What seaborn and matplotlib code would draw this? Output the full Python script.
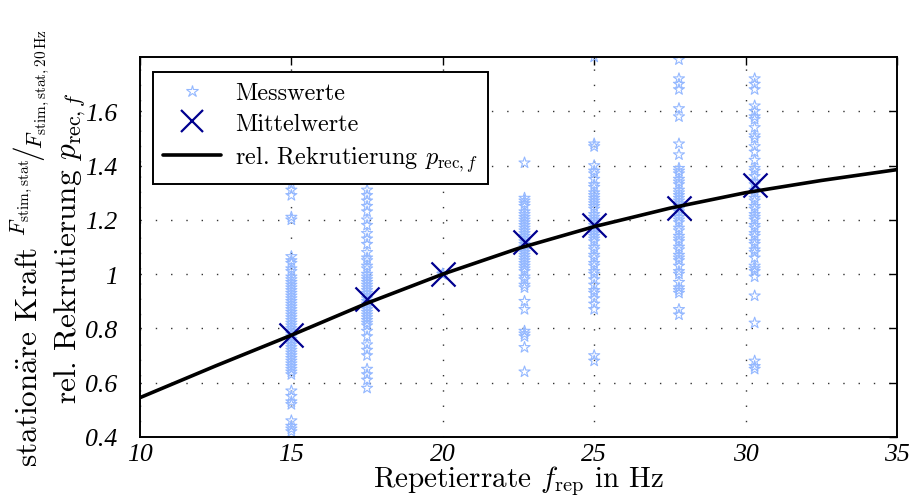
"""
Stationary force vs. repetition rate with relative recruitment curve.
"""

import numpy as np
import pandas as pd
import matplotlib
matplotlib.use("Agg")
import matplotlib.pyplot as plt
import seaborn as sns
from matplotlib.lines import Line2D

# measured columns (repetition rate in Hz -> normalised stationary force)
f_15 = [1.33, 1.31, 1.29, 1.21, 1.20, 1.065, 1.05, 1.04, 1.02, 1.01, 0.99, 0.98,
        0.97, 0.96, 0.95, 0.94, 0.93, 0.92, 0.91, 0.90, 0.89, 0.88, 0.87, 0.86,
        0.85, 0.84, 0.83, 0.82, 0.81, 0.80, 0.79, 0.78, 0.77, 0.76, 0.75, 0.74,
        0.73, 0.72, 0.71, 0.70, 0.69, 0.68, 0.67, 0.66, 0.65, 0.64, 0.63, 0.57,
        0.55, 0.53, 0.52, 0.46, 0.44, 0.43, 0.42]
f_17 = [1.31, 1.29, 1.27, 1.25, 1.23, 1.20, 1.18, 1.15, 1.13, 1.11, 1.08, 1.06,
        1.05, 1.03, 1.02, 1.00, 0.99, 0.98, 0.97, 0.96, 0.95, 0.94, 0.93, 0.92,
        0.91, 0.90, 0.89, 0.88, 0.87, 0.86, 0.85, 0.84, 0.83, 0.82, 0.81, 0.79,
        0.77, 0.74, 0.72, 0.70, 0.65, 0.63, 0.61, 0.58]
f_20 = [1.0, 1.0, 1.0, 1.0]
f_22 = [1.41, 1.28, 1.27, 1.26, 1.25, 1.23, 1.22, 1.21, 1.20, 1.19, 1.18, 1.17,
        1.16, 1.15, 1.14, 1.13, 1.12, 1.11, 1.10, 1.09, 1.08, 1.07, 1.06, 1.05,
        1.04, 1.03, 1.02, 1.01, 0.99, 0.98, 0.96, 0.95, 0.90, 0.87, 0.79, 0.78,
        0.77, 0.73, 0.64]
f_25 = [1.80, 1.48, 1.47, 1.40, 1.38, 1.37, 1.35, 1.33, 1.32, 1.30, 1.29, 1.28,
        1.27, 1.26, 1.25, 1.24, 1.22, 1.21, 1.20, 1.19, 1.18, 1.17, 1.16, 1.15,
        1.14, 1.13, 1.12, 1.10, 1.09, 1.07, 1.06, 1.04, 1.03, 1.01, 1.00, 0.98,
        0.96, 0.94, 0.93, 0.91, 0.89, 0.87, 0.70, 0.68]
f_27 = [1.79, 1.72, 1.70, 1.68, 1.61, 1.58, 1.48, 1.44, 1.39, 1.38, 1.37, 1.35,
        1.34, 1.33, 1.31, 1.30, 1.29, 1.28, 1.27, 1.26, 1.25, 1.24, 1.23, 1.21,
        1.20, 1.19, 1.17, 1.16, 1.14, 1.13, 1.12, 1.10, 1.09, 1.07, 1.06, 1.05,
        1.03, 1.01, 1.00, 0.97, 0.95, 0.94, 0.93, 0.87, 0.85]
f_30 = [1.72, 1.70, 1.68, 1.62, 1.60, 1.58, 1.57, 1.54, 1.51, 1.50, 1.47, 1.45,
        1.42, 1.39, 1.38, 1.36, 1.34, 1.33, 1.31, 1.30, 1.28, 1.27, 1.25, 1.24,
        1.22, 1.21, 1.20, 1.18, 1.17, 1.15, 1.14, 1.12, 1.11, 1.09, 1.08, 1.06,
        1.03, 1.02, 1.01, 0.99, 0.92, 0.82, 0.68, 0.66, 0.65]

rep_rates = [15.0, 17.5, 20.0, 22.7, 25.0, 27.8, 30.3]
columns = [f_15, f_17, f_20, f_22, f_25, f_27, f_30]

# mean per repetition rate
mean_force = [0.774, 0.907, 1.0, 1.117, 1.181, 1.243, 1.330]

# relative recruitment curve
curve_f = [10.0, 12.5, 15.0, 17.5, 20.0, 22.5, 25.0, 27.5, 30.0, 32.5, 35.0]
curve_p = [0.545, 0.662, 0.775, 0.893, 1.0, 1.095, 1.175, 1.243, 1.300, 1.345, 1.385]

x_ticks = [10, 15, 20, 25, 30, 35]
y_ticks = [0.4, 0.6, 0.8, 1.0, 1.2, 1.4, 1.6]
y_tick_labels = ["0.4", "0.6", "0.8", "1", "1.2", "1.4", "1.6"]


def main():
    sns.set_style("white")
    plt.rcParams["font.family"] = ["cmr10", "DejaVu Serif"]
    plt.rcParams["mathtext.fontset"] = "cm"
    plt.rcParams["axes.unicode_minus"] = False
    plt.rcParams["text.color"] = "black"
    plt.rcParams["axes.labelcolor"] = "black"
    plt.rcParams["xtick.color"] = "black"
    plt.rcParams["ytick.color"] = "black"

    df = pd.DataFrame({
        "f": np.concatenate([[r] * len(c) for r, c in zip(rep_rates, columns)]),
        "F": np.concatenate(columns),
    })

    fig = plt.figure(figsize=(9.1, 5.02), dpi=100)
    ax = fig.add_axes([0.1538, 0.1275, 0.8319, 0.757])

    star_col = "#94b8ff"
    mean_col = "#00008f"

    sns.scatterplot(data=df, x="f", y="F", ax=ax, marker="*", s=70,
                    facecolors="none", edgecolors=star_col, linewidth=0.8,
                    zorder=2, legend=False)
    sns.scatterplot(x=rep_rates, y=mean_force, ax=ax, marker="x", s=300,
                    color=mean_col, linewidth=1.6, zorder=3, legend=False)
    sns.lineplot(x=curve_f, y=curve_p, ax=ax, color="black", linewidth=2.6,
                 zorder=4)

    ax.set_xlim(10, 35)
    ax.set_ylim(0.4, 1.8)
    ax.set_xticks(x_ticks)
    ax.set_yticks(y_ticks)
    ax.set_xticklabels([str(t) for t in x_ticks])
    ax.set_yticklabels(y_tick_labels)
    for lab in ax.get_xticklabels() + ax.get_yticklabels():
        lab.set_family("Liberation Serif")
        lab.set_style("italic")
        lab.set_fontsize(18.5)
        lab.set_color("black")

    ax.tick_params(direction="in", length=6, width=1, top=True, right=True,
                   color="black")
    ax.tick_params(axis="x", pad=4)
    ax.tick_params(axis="y", pad=16)
    ax.grid(True, color="#333333", linestyle=(0, (1, 10)), linewidth=1.0)
    for sp in ax.spines.values():
        sp.set_color("black")
        sp.set_linewidth(1.4)

    ax.set_xlabel(r"Repetierrate $f_{\mathrm{rep}}$ in Hz", fontsize=21, labelpad=-1)
    ax.set_ylabel(
        r"station$\mathrm{\ddot{a}}$re Kraft "
        r"${}^{F_{\mathrm{stim,stat}}}\!/\!{}_{F_{\mathrm{stim,stat,20\,Hz}}}$"
        "\n"
        r"rel. Rekrutierung $p_{\mathrm{rec},f}$",
        fontsize=22.5, linespacing=1.05, labelpad=-2,
    )

    handles = [
        Line2D([], [], linestyle="", marker="*", markersize=9,
               markerfacecolor="none", markeredgecolor=star_col,
               markeredgewidth=0.8),
        Line2D([], [], linestyle="", marker="x", markersize=16,
               color=mean_col, markeredgewidth=1.6),
        Line2D([], [], color="black", linewidth=2.6),
    ]
    labels = ["Messwerte", "Mittelwerte", r"rel. Rekrutierung $p_{\mathrm{rec},f}$"]
    leg = ax.legend(handles, labels, loc="upper left",
                    bbox_to_anchor=(0.017, 0.96), borderaxespad=0,
                    fontsize=17.5, frameon=True, fancybox=False,
                    handlelength=2.4, handletextpad=0.6,
                    labelspacing=0.35, borderpad=0.4)
    leg.get_frame().set_edgecolor("black")
    leg.get_frame().set_linewidth(1.4)
    leg.get_frame().set_alpha(1)

    fig.savefig("out.png", dpi=100)
    plt.close(fig)


if __name__ == "__main__":
    main()
